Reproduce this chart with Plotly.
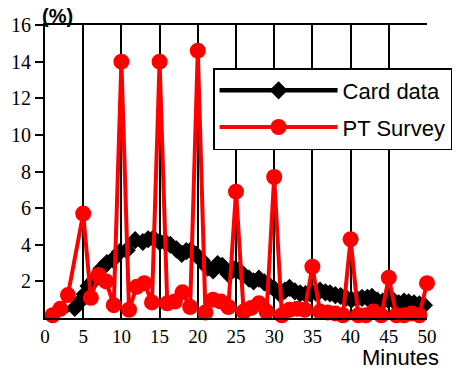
import plotly.graph_objects as go

card_x = [3.9, 4.6, 5.2, 5.7, 6.5, 7.4, 8.1, 8.9, 9.8, 10.7, 11.8, 12.8, 13.5, 14.2, 15.0, 15.7,
          16.4, 17.2, 17.9, 18.5, 19.1, 19.8, 20.5, 21.3, 22.0, 22.6, 23.2, 24.0, 24.7, 25.3,
          26.0, 26.7, 27.3, 28.0, 28.7, 29.4, 30.1, 30.8, 31.4, 32.0, 32.7, 33.4, 34.1, 34.7,
          35.4, 36.0, 36.7, 37.3, 38.0, 38.7, 39.4, 40.1, 40.8, 41.5, 42.2, 42.8, 43.5, 44.2,
          44.9, 45.6, 46.3, 47.0, 47.6, 48.3, 49.0, 49.6, 50.4]
card_y = [0.55, 0.9, 1.3, 1.75, 2.1, 2.7, 3.0, 3.2, 3.6, 3.7, 4.25, 4.15, 4.3, 4.35, 4.15, 4.15,
          4.0, 3.75, 3.5, 3.65, 3.7, 3.45, 3.15, 2.75, 2.6, 2.95, 2.85, 2.4, 2.65, 2.6,
          2.35, 2.15, 2.0, 2.15, 1.95, 1.75, 1.55, 1.3, 1.5, 1.65, 1.45, 1.35, 1.3, 1.35,
          1.4, 1.5, 1.4, 1.35, 1.25, 1.2, 1.1, 1.0, 1.05, 1.1, 1.1, 1.15, 0.95, 0.9,
          1.0, 0.95, 0.8, 0.9, 0.85, 0.8, 0.75, 0.7, 0.45]

early_x = [0.8, 1.8, 2.8, 3.9]
early_y = [0.05, 0.2, 0.4, 0.55]

pt_x = [1, 2, 3, 5, 6, 7, 8, 9, 10, 11, 12, 13, 14, 15, 16, 17, 18, 19, 20, 21, 22, 23, 24, 25,
        26, 27, 28, 29, 30, 31, 32, 33, 34, 35, 36, 37, 38, 39, 40, 41, 42, 43, 44, 45, 46, 47,
        48, 49, 50]
pt_y = [0.15, 0.5, 1.25, 5.7, 1.1, 2.35, 2.0, 0.7, 14.0, 0.45, 1.7, 1.9, 0.85, 14.0, 0.8, 0.9,
        1.4, 0.6, 14.6, 0.3, 1.0, 0.9, 0.6, 6.9, 0.35, 0.55, 0.8, 0.35, 7.7, 0.15, 0.45, 0.5,
        0.45, 2.8, 0.35, 0.3, 0.25, 0.15, 4.3, 0.15, 0.15, 0.35, 0.15, 2.2, 0.15, 0.15, 0.25,
        0.15, 1.9]

x_ticks = [0, 5, 10, 15, 20, 25, 30, 35, 40, 45, 50]
y_ticks = [2, 4, 6, 8, 10, 12, 14, 16]

serif = "'Liberation Serif', 'DejaVu Serif', serif"
sans = "'Liberation Sans', Arial, sans-serif"

fig = go.Figure()
fig.add_trace(go.Scatter(x=early_x, y=early_y, mode="lines+markers", showlegend=False,
                         line=dict(color="blue", width=3), marker=dict(color="blue", size=5),
                         cliponaxis=False))
fig.add_trace(go.Scatter(x=card_x, y=card_y, mode="lines+markers", name="Card data",
                         legendgroup="a",
                         line=dict(color="black", width=4.5),
                         marker=dict(symbol="diamond", color="black", size=14),
                         cliponaxis=False))
fig.add_trace(go.Scatter(x=pt_x, y=pt_y, mode="lines+markers", name="PT Survey",
                         legendgroup="b",
                         line=dict(color="red", width=4),
                         marker=dict(symbol="circle", color="red", size=16,
                                     line=dict(color="red", width=0)),
                         cliponaxis=False))

fig.update_layout(
    width=458, height=372,
    margin=dict(l=45, r=31, t=25, b=54, autoexpand=False),
    plot_bgcolor="white", paper_bgcolor="white",
    font=dict(family=serif, size=19, color="black"),
    legend=dict(x=0.44, y=0.853, xanchor="left", yanchor="top",
                bgcolor="white", bordercolor="black", borderwidth=1.5,
                font=dict(family=sans, size=22),
                itemwidth=118, tracegroupgap=5),
    annotations=[
        dict(text="<b>(%)</b>", x=0, y=1, xref="paper", yref="paper",
             xanchor="left", yanchor="bottom", xshift=-5, yshift=-4, showarrow=False,
             font=dict(family=sans, size=20)),
        dict(text="Minutes", x=1, y=0, xref="paper", yref="paper",
             xanchor="right", yanchor="top", xshift=14, yshift=-25, showarrow=False,
             font=dict(family=sans, size=22)),
    ],
)
fig.update_xaxes(range=[0, 50], tickvals=x_ticks, showgrid=True, gridcolor="black", gridwidth=2,
                 showline=True, linecolor="black", linewidth=2, mirror=True, ticks="",
                 zeroline=False, fixedrange=True, automargin=False,
                 tickfont=dict(family=serif, size=19))
fig.update_yaxes(range=[0, 16], tickvals=y_ticks, showgrid=False,
                 showline=True, linecolor="black", linewidth=2, ticks="outside",
                 ticklen=8, tickwidth=2, tickcolor="black", zeroline=False, fixedrange=True,
                 automargin=False, tickfont=dict(family=serif, size=20))

fig.write_html("out.html", config={"displayModeBar": False},
               post_script="document.body.style.margin='0';document.body.style.padding='0';")
